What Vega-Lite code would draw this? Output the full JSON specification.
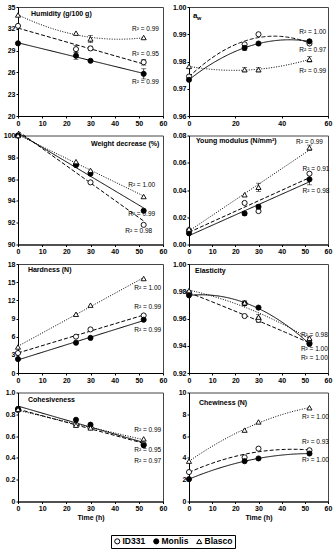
{
"$schema":"https://vega.github.io/schema/vega-lite/v6.json",
"padding":{"left":2,"top":2,"right":0,"bottom":0},
"columns":2,
"spacing":{"row":19.5,"column":26},
"bounds":"flush",
"resolve":{"scale":{"shape":"shared","fill":"shared","strokeDash":"shared"},"legend":{"shape":"independent","fill":"independent"}},
"datasets":{
"pts":[
{"p":"hum","s":"ID331","t":0,"v":32.4,"err":0},{"p":"hum","s":"ID331","t":24,"v":29.2,"err":0.5},{"p":"hum","s":"ID331","t":30,"v":29.3,"err":0.3},{"p":"hum","s":"ID331","t":52,"v":27.4,"err":0.4},
{"p":"hum","s":"Monlis","t":0,"v":30.0,"err":0},{"p":"hum","s":"Monlis","t":24,"v":28.3,"err":0.5},{"p":"hum","s":"Monlis","t":30,"v":27.6,"err":0},{"p":"hum","s":"Monlis","t":52,"v":25.8,"err":0.7},
{"p":"hum","s":"Blasco","t":0,"v":33.9,"err":0},{"p":"hum","s":"Blasco","t":24,"v":31.4,"err":0},{"p":"hum","s":"Blasco","t":30,"v":30.6,"err":0.5},{"p":"hum","s":"Blasco","t":52,"v":30.8,"err":0},
{"p":"aw","s":"ID331","t":0,"v":0.9745,"err":0},{"p":"aw","s":"ID331","t":24,"v":0.9863,"err":0},{"p":"aw","s":"ID331","t":30,"v":0.9900,"err":0},{"p":"aw","s":"ID331","t":52,"v":0.9866,"err":0.0005},
{"p":"aw","s":"Monlis","t":0,"v":0.9733,"err":0},{"p":"aw","s":"Monlis","t":24,"v":0.9850,"err":0.0009},{"p":"aw","s":"Monlis","t":30,"v":0.9866,"err":0},{"p":"aw","s":"Monlis","t":52,"v":0.9874,"err":0.0005},
{"p":"aw","s":"Blasco","t":0,"v":0.9782,"err":0},{"p":"aw","s":"Blasco","t":24,"v":0.9770,"err":0.0008},{"p":"aw","s":"Blasco","t":30,"v":0.9770,"err":0.0008},{"p":"aw","s":"Blasco","t":52,"v":0.9808,"err":0.0010},
{"p":"wd","s":"ID331","t":0,"v":100,"err":0},{"p":"wd","s":"ID331","t":24,"v":97.3,"err":0},{"p":"wd","s":"ID331","t":30,"v":95.7,"err":0},{"p":"wd","s":"ID331","t":52,"v":91.8,"err":0},
{"p":"wd","s":"Monlis","t":0,"v":100,"err":0},{"p":"wd","s":"Monlis","t":24,"v":97.3,"err":0},{"p":"wd","s":"Monlis","t":30,"v":96.5,"err":0},{"p":"wd","s":"Monlis","t":52,"v":93.1,"err":0},
{"p":"wd","s":"Blasco","t":0,"v":100,"err":0},{"p":"wd","s":"Blasco","t":24,"v":97.6,"err":0},{"p":"wd","s":"Blasco","t":30,"v":96.8,"err":0},{"p":"wd","s":"Blasco","t":52,"v":94.4,"err":0},
{"p":"ym","s":"ID331","t":0,"v":0.0105,"err":0},{"p":"ym","s":"ID331","t":24,"v":0.0305,"err":0},{"p":"ym","s":"ID331","t":30,"v":0.0245,"err":0},{"p":"ym","s":"ID331","t":52,"v":0.0520,"err":0},
{"p":"ym","s":"Monlis","t":0,"v":0.0082,"err":0},{"p":"ym","s":"Monlis","t":24,"v":0.0228,"err":0.0015},{"p":"ym","s":"Monlis","t":30,"v":0.0277,"err":0.0015},{"p":"ym","s":"Monlis","t":52,"v":0.0478,"err":0.004},
{"p":"ym","s":"Blasco","t":0,"v":0.0113,"err":0},{"p":"ym","s":"Blasco","t":24,"v":0.0365,"err":0},{"p":"ym","s":"Blasco","t":30,"v":0.0420,"err":0.003},{"p":"ym","s":"Blasco","t":52,"v":0.0710,"err":0.002},
{"p":"hd","s":"ID331","t":0,"v":3.3,"err":0},{"p":"hd","s":"ID331","t":24,"v":6.0,"err":0},{"p":"hd","s":"ID331","t":30,"v":7.2,"err":0},{"p":"hd","s":"ID331","t":52,"v":9.5,"err":0},
{"p":"hd","s":"Monlis","t":0,"v":2.3,"err":0},{"p":"hd","s":"Monlis","t":24,"v":5.0,"err":0},{"p":"hd","s":"Monlis","t":30,"v":5.8,"err":0},{"p":"hd","s":"Monlis","t":52,"v":8.8,"err":0},
{"p":"hd","s":"Blasco","t":0,"v":4.3,"err":0},{"p":"hd","s":"Blasco","t":24,"v":9.7,"err":0},{"p":"hd","s":"Blasco","t":30,"v":11.2,"err":0},{"p":"hd","s":"Blasco","t":52,"v":15.6,"err":0},
{"p":"el","s":"ID331","t":0,"v":0.9790,"err":0},{"p":"el","s":"ID331","t":24,"v":0.9618,"err":0},{"p":"el","s":"ID331","t":30,"v":0.9590,"err":0.002},{"p":"el","s":"ID331","t":52,"v":0.9420,"err":0},
{"p":"el","s":"Monlis","t":0,"v":0.9770,"err":0},{"p":"el","s":"Monlis","t":24,"v":0.9710,"err":0},{"p":"el","s":"Monlis","t":30,"v":0.9680,"err":0},{"p":"el","s":"Monlis","t":52,"v":0.9413,"err":0},
{"p":"el","s":"Blasco","t":0,"v":0.9805,"err":0},{"p":"el","s":"Blasco","t":24,"v":0.9715,"err":0.0015},{"p":"el","s":"Blasco","t":30,"v":0.9610,"err":0.002},{"p":"el","s":"Blasco","t":52,"v":0.9455,"err":0.0015},
{"p":"co","s":"ID331","t":0,"v":0.840,"err":0},{"p":"co","s":"ID331","t":24,"v":0.705,"err":0},{"p":"co","s":"ID331","t":30,"v":0.680,"err":0},{"p":"co","s":"ID331","t":52,"v":0.525,"err":0},
{"p":"co","s":"Monlis","t":0,"v":0.850,"err":0},{"p":"co","s":"Monlis","t":24,"v":0.750,"err":0},{"p":"co","s":"Monlis","t":30,"v":0.705,"err":0},{"p":"co","s":"Monlis","t":52,"v":0.515,"err":0},
{"p":"co","s":"Blasco","t":0,"v":0.845,"err":0},{"p":"co","s":"Blasco","t":24,"v":0.700,"err":0},{"p":"co","s":"Blasco","t":30,"v":0.675,"err":0},{"p":"co","s":"Blasco","t":52,"v":0.575,"err":0},
{"p":"ch","s":"ID331","t":0,"v":2.7,"err":0},{"p":"ch","s":"ID331","t":24,"v":4.05,"err":0},{"p":"ch","s":"ID331","t":30,"v":4.85,"err":0},{"p":"ch","s":"ID331","t":52,"v":4.7,"err":0},
{"p":"ch","s":"Monlis","t":0,"v":2.05,"err":0},{"p":"ch","s":"Monlis","t":24,"v":3.7,"err":0},{"p":"ch","s":"Monlis","t":30,"v":3.95,"err":0},{"p":"ch","s":"Monlis","t":52,"v":4.4,"err":0},
{"p":"ch","s":"Blasco","t":0,"v":3.7,"err":0},{"p":"ch","s":"Blasco","t":24,"v":6.55,"err":0},{"p":"ch","s":"Blasco","t":30,"v":7.3,"err":0},{"p":"ch","s":"Blasco","t":52,"v":8.6,"err":0}
],
"lab":[
{"p":"hum","t":47.2,"v":31.93,"txt":"R² = 0.99"},{"p":"hum","t":47.2,"v":28.57,"txt":"R² = 0.95"},{"p":"hum","t":47.2,"v":24.68,"txt":"R² = 0.99"},
{"p":"aw","t":47.6,"v":0.9910,"txt":"R² = 1.00"},{"p":"aw","t":47.6,"v":0.9843,"txt":"R² = 0.97"},{"p":"aw","t":47.6,"v":0.9765,"txt":"R² = 0.99"},
{"p":"wd","t":45.6,"v":95.43,"txt":"R² = 1.00"},{"p":"wd","t":45.6,"v":92.8,"txt":"R² = 0.99"},{"p":"wd","t":44.4,"v":91.23,"txt":"R² = 0.98"},
{"p":"ym","t":46.2,"v":0.0751,"txt":"R² = 0.99"},{"p":"ym","t":49,"v":0.0555,"txt":"R² = 0.91"},{"p":"ym","t":49,"v":0.039,"txt":"R² = 0.98"},
{"p":"hd","t":48.1,"v":14.04,"txt":"R² = 1.00"},{"p":"hd","t":48.1,"v":10.87,"txt":"R² = 0.99"},{"p":"hd","t":48.1,"v":7.08,"txt":"R² = 0.99"},
{"p":"el","t":48.3,"v":0.9476,"txt":"R² = 0.98"},{"p":"el","t":48.3,"v":0.9373,"txt":"R² = 1.00"},{"p":"el","t":48.3,"v":0.9308,"txt":"R² = 1.00"},
{"p":"co","t":48.1,"v":0.657,"txt":"R² = 0.99"},{"p":"co","t":48.1,"v":0.47,"txt":"R² = 0.95"},{"p":"co","t":48.1,"v":0.37,"txt":"R² = 0.97"},
{"p":"ch","t":48.8,"v":7.78,"txt":"R² = 1.00"},{"p":"ch","t":48.8,"v":5.48,"txt":"R² = 0.93"},{"p":"ch","t":48.8,"v":3.79,"txt":"R² = 1.00"}
],
"ttl":[
{"p":"hum","t":5.4,"v":34.0,"txt":"Humidity (g/100 g)"},
{"p":"aw","t":1.7,"v":0.9967,"txt":"a"},
{"p":"wd","t":30.2,"v":99.26,"txt":"Weight decrease (%)"},
{"p":"ym","t":3.0,"v":0.0756,"txt":"Young modulus (N/mm²)"},
{"p":"hd","t":4.1,"v":17.0,"txt":"Hardness (N)"},
{"p":"el","t":2.6,"v":0.995,"txt":"Elasticity"},
{"p":"co","t":4.1,"v":0.927,"txt":"Cohesiveness"},
{"p":"ch","t":4.3,"v":9.05,"txt":"Chewiness (N)"}
],
"sub":[{"p":"aw","t":3.4,"v":0.9958,"txt":"w"}]
},
"concat":[
{"width":145,"height":109,
 "encoding":{"x":{"field":"t","type":"quantitative","scale":{"domain":[0,60]},"axis":{"values":[0,10,20,30,40,50,60],"title":null}},
  "y":{"field":"v","type":"quantitative","scale":{"domain":[20,35]},"axis":{"values":[20,23,26,29,32,35],"title":null}}},
 "layer":[
  {"data":{"name":"pts"},"transform":[{"filter":"datum.p=='hum' && datum.s!='Blasco'"},{"regression":"v","on":"t","groupby":["s"],"extent":[0,52]}],"mark":{"type":"line","color":"black","strokeWidth":1},"encoding":{"strokeDash":{"field":"s","type":"nominal","scale":{"domain":["ID331","Monlis","Blasco"],"range":[[4,2],[1,0],[1,1.5]]},"legend":null}}},
  {"data":{"name":"pts"},"transform":[{"filter":"datum.p=='hum' && datum.s=='Blasco'"},{"regression":"v","on":"t","groupby":["s"],"method":"poly","order":2,"extent":[0,52]}],"mark":{"type":"line","color":"black","strokeWidth":1},"encoding":{"strokeDash":{"field":"s","type":"nominal","scale":{"domain":["ID331","Monlis","Blasco"],"range":[[4,2],[1,0],[1,1.5]]},"legend":null}}},
  {"data":{"name":"pts"},"transform":[{"filter":"datum.p=='hum' && datum.err>0"}],"mark":{"type":"errorbar","ticks":true,"color":"black","thickness":0.7},"encoding":{"yError":{"field":"err"}}},
  {"data":{"name":"pts"},"transform":[{"filter":"datum.p=='hum'"}],"mark":{"type":"point","stroke":"black","strokeWidth":0.9,"size":26,"opacity":1},"encoding":{
    "shape":{"field":"s","type":"nominal","scale":{"domain":["ID331","Monlis","Blasco"],"range":["circle","circle","triangle-up"]},"title":null,"legend":{"orient":"none","legendX":93,"legendY":528,"direction":"horizontal","strokeColor":"black","padding":2,"labelFontSize":8.5,"labelFontWeight":"bold","labelColor":"black","symbolSize":26,"symbolStrokeWidth":1,"columnPadding":5,"labelOffset":1}},
    "fill":{"field":"s","type":"nominal","scale":{"domain":["ID331","Monlis","Blasco"],"range":["white","black","white"]},"title":null,"legend":{"orient":"none","legendX":93,"legendY":528,"direction":"horizontal","strokeColor":"black","padding":2,"labelFontSize":8.5,"labelFontWeight":"bold","labelColor":"black","symbolSize":26,"symbolStrokeWidth":1,"columnPadding":5,"labelOffset":1}}}},
  {"data":{"name":"lab"},"transform":[{"filter":"datum.p=='hum'"}],"mark":{"type":"text","align":"left","baseline":"middle","fontSize":6.5,"color":"black"},"encoding":{"text":{"field":"txt"}}},
  {"data":{"name":"ttl"},"transform":[{"filter":"datum.p=='hum'"}],"mark":{"type":"text","align":"left","baseline":"middle","fontSize":7,"fontWeight":"bold","color":"black"},"encoding":{"text":{"field":"txt"}}}
 ]},
{"width":139,"height":109,
 "encoding":{"x":{"field":"t","type":"quantitative","scale":{"domain":[0,60]},"axis":{"values":[0,20,40,60],"title":null}},
  "y":{"field":"v","type":"quantitative","scale":{"domain":[0.96,1.0]},"axis":{"values":[0.96,0.97,0.98,0.99,1.0],"format":".2f","title":null}}},
 "layer":[
  {"data":{"name":"pts"},"transform":[{"filter":"datum.p=='aw'"},{"regression":"v","on":"t","groupby":["s"],"method":"poly","order":2,"extent":[0,52]}],"mark":{"type":"line","color":"black","strokeWidth":1},"encoding":{"strokeDash":{"field":"s","type":"nominal","scale":{"domain":["ID331","Monlis","Blasco"],"range":[[4,2],[1,0],[1,1.5]]},"legend":null}}},
  {"data":{"name":"pts"},"transform":[{"filter":"datum.p=='aw' && datum.err>0"}],"mark":{"type":"errorbar","ticks":true,"color":"black","thickness":0.7},"encoding":{"yError":{"field":"err"}}},
  {"data":{"name":"pts"},"transform":[{"filter":"datum.p=='aw'"}],"mark":{"type":"point","stroke":"black","strokeWidth":0.9,"size":26,"opacity":1},"encoding":{"shape":{"field":"s","type":"nominal","scale":{"domain":["ID331","Monlis","Blasco"],"range":["circle","circle","triangle-up"]},"legend":null},"fill":{"field":"s","type":"nominal","scale":{"domain":["ID331","Monlis","Blasco"],"range":["white","black","white"]},"legend":null}}},
  {"data":{"name":"lab"},"transform":[{"filter":"datum.p=='aw'"}],"mark":{"type":"text","align":"left","baseline":"middle","fontSize":6.5,"color":"black"},"encoding":{"text":{"field":"txt"}}},
  {"data":{"name":"ttl"},"transform":[{"filter":"datum.p=='aw'"}],"mark":{"type":"text","align":"left","baseline":"middle","fontSize":8,"fontWeight":"bold","color":"black"},"encoding":{"text":{"field":"txt"}}},
  {"data":{"name":"sub"},"transform":[{"filter":"datum.p=='aw'"}],"mark":{"type":"text","align":"left","baseline":"middle","fontSize":5.5,"fontWeight":"bold","color":"black"},"encoding":{"text":{"field":"txt"}}}
 ]},
{"width":145,"height":109,
 "encoding":{"x":{"field":"t","type":"quantitative","scale":{"domain":[0,60]},"axis":{"values":[0,10,20,30,40,50,60],"title":null}},
  "y":{"field":"v","type":"quantitative","scale":{"domain":[90,100]},"axis":{"values":[90,92,94,96,98,100],"title":null}}},
 "layer":[
  {"data":{"name":"pts"},"transform":[{"filter":"datum.p=='wd'"},{"regression":"v","on":"t","groupby":["s"],"extent":[0,52]}],"mark":{"type":"line","color":"black","strokeWidth":1},"encoding":{"strokeDash":{"field":"s","type":"nominal","scale":{"domain":["ID331","Monlis","Blasco"],"range":[[4,2],[1,0],[1,1.5]]},"legend":null}}},
  {"data":{"name":"pts"},"transform":[{"filter":"datum.p=='wd'"}],"mark":{"type":"point","stroke":"black","strokeWidth":0.9,"size":26,"opacity":1},"encoding":{"shape":{"field":"s","type":"nominal","scale":{"domain":["ID331","Monlis","Blasco"],"range":["circle","circle","triangle-up"]},"legend":null},"fill":{"field":"s","type":"nominal","scale":{"domain":["ID331","Monlis","Blasco"],"range":["white","black","white"]},"legend":null}}},
  {"data":{"name":"lab"},"transform":[{"filter":"datum.p=='wd'"}],"mark":{"type":"text","align":"left","baseline":"middle","fontSize":6.5,"color":"black"},"encoding":{"text":{"field":"txt"}}},
  {"data":{"name":"ttl"},"transform":[{"filter":"datum.p=='wd'"}],"mark":{"type":"text","align":"left","baseline":"middle","fontSize":7,"fontWeight":"bold","color":"black"},"encoding":{"text":{"field":"txt"}}}
 ]},
{"width":139,"height":109,
 "encoding":{"x":{"field":"t","type":"quantitative","scale":{"domain":[0,60]},"axis":{"values":[0,10,20,30,40,50,60],"title":null}},
  "y":{"field":"v","type":"quantitative","scale":{"domain":[0,0.08]},"axis":{"values":[0,0.02,0.04,0.06,0.08],"format":".2f","title":null}}},
 "layer":[
  {"data":{"name":"pts"},"transform":[{"filter":"datum.p=='ym'"},{"regression":"v","on":"t","groupby":["s"],"extent":[0,52]}],"mark":{"type":"line","color":"black","strokeWidth":1},"encoding":{"strokeDash":{"field":"s","type":"nominal","scale":{"domain":["ID331","Monlis","Blasco"],"range":[[4,2],[1,0],[1,1.5]]},"legend":null}}},
  {"data":{"name":"pts"},"transform":[{"filter":"datum.p=='ym' && datum.err>0"}],"mark":{"type":"errorbar","ticks":true,"color":"black","thickness":0.7},"encoding":{"yError":{"field":"err"}}},
  {"data":{"name":"pts"},"transform":[{"filter":"datum.p=='ym'"}],"mark":{"type":"point","stroke":"black","strokeWidth":0.9,"size":26,"opacity":1},"encoding":{"shape":{"field":"s","type":"nominal","scale":{"domain":["ID331","Monlis","Blasco"],"range":["circle","circle","triangle-up"]},"legend":null},"fill":{"field":"s","type":"nominal","scale":{"domain":["ID331","Monlis","Blasco"],"range":["white","black","white"]},"legend":null}}},
  {"data":{"name":"lab"},"transform":[{"filter":"datum.p=='ym'"}],"mark":{"type":"text","align":"left","baseline":"middle","fontSize":6.5,"color":"black"},"encoding":{"text":{"field":"txt"}}},
  {"data":{"name":"ttl"},"transform":[{"filter":"datum.p=='ym'"}],"mark":{"type":"text","align":"left","baseline":"middle","fontSize":7,"fontWeight":"bold","color":"black"},"encoding":{"text":{"field":"txt"}}}
 ]},
{"width":145,"height":109,
 "encoding":{"x":{"field":"t","type":"quantitative","scale":{"domain":[0,60]},"axis":{"values":[0,10,20,30,40,50,60],"title":null}},
  "y":{"field":"v","type":"quantitative","scale":{"domain":[0,18]},"axis":{"values":[0,3,6,9,12,15,18],"title":null}}},
 "layer":[
  {"data":{"name":"pts"},"transform":[{"filter":"datum.p=='hd'"},{"regression":"v","on":"t","groupby":["s"],"extent":[0,52]}],"mark":{"type":"line","color":"black","strokeWidth":1},"encoding":{"strokeDash":{"field":"s","type":"nominal","scale":{"domain":["ID331","Monlis","Blasco"],"range":[[4,2],[1,0],[1,1.5]]},"legend":null}}},
  {"data":{"name":"pts"},"transform":[{"filter":"datum.p=='hd'"}],"mark":{"type":"point","stroke":"black","strokeWidth":0.9,"size":26,"opacity":1},"encoding":{"shape":{"field":"s","type":"nominal","scale":{"domain":["ID331","Monlis","Blasco"],"range":["circle","circle","triangle-up"]},"legend":null},"fill":{"field":"s","type":"nominal","scale":{"domain":["ID331","Monlis","Blasco"],"range":["white","black","white"]},"legend":null}}},
  {"data":{"name":"lab"},"transform":[{"filter":"datum.p=='hd'"}],"mark":{"type":"text","align":"left","baseline":"middle","fontSize":6.5,"color":"black"},"encoding":{"text":{"field":"txt"}}},
  {"data":{"name":"ttl"},"transform":[{"filter":"datum.p=='hd'"}],"mark":{"type":"text","align":"left","baseline":"middle","fontSize":7,"fontWeight":"bold","color":"black"},"encoding":{"text":{"field":"txt"}}}
 ]},
{"width":139,"height":109,
 "encoding":{"x":{"field":"t","type":"quantitative","scale":{"domain":[0,60]},"axis":{"values":[0,10,20,30,40,50,60],"title":null}},
  "y":{"field":"v","type":"quantitative","scale":{"domain":[0.92,1.0]},"axis":{"values":[0.92,0.94,0.96,0.98,1.0],"format":".2f","title":null}}},
 "layer":[
  {"data":{"name":"pts"},"transform":[{"filter":"datum.p=='el'"},{"regression":"v","on":"t","groupby":["s"],"method":"poly","order":2,"extent":[0,52]}],"mark":{"type":"line","color":"black","strokeWidth":1},"encoding":{"strokeDash":{"field":"s","type":"nominal","scale":{"domain":["ID331","Monlis","Blasco"],"range":[[4,2],[1,0],[1,1.5]]},"legend":null}}},
  {"data":{"name":"pts"},"transform":[{"filter":"datum.p=='el' && datum.err>0"}],"mark":{"type":"errorbar","ticks":true,"color":"black","thickness":0.7},"encoding":{"yError":{"field":"err"}}},
  {"data":{"name":"pts"},"transform":[{"filter":"datum.p=='el'"}],"mark":{"type":"point","stroke":"black","strokeWidth":0.9,"size":26,"opacity":1},"encoding":{"shape":{"field":"s","type":"nominal","scale":{"domain":["ID331","Monlis","Blasco"],"range":["circle","circle","triangle-up"]},"legend":null},"fill":{"field":"s","type":"nominal","scale":{"domain":["ID331","Monlis","Blasco"],"range":["white","black","white"]},"legend":null}}},
  {"data":{"name":"lab"},"transform":[{"filter":"datum.p=='el'"}],"mark":{"type":"text","align":"left","baseline":"middle","fontSize":6.5,"color":"black"},"encoding":{"text":{"field":"txt"}}},
  {"data":{"name":"ttl"},"transform":[{"filter":"datum.p=='el'"}],"mark":{"type":"text","align":"left","baseline":"middle","fontSize":7,"fontWeight":"bold","color":"black"},"encoding":{"text":{"field":"txt"}}}
 ]},
{"width":145,"height":109,
 "encoding":{"x":{"field":"t","type":"quantitative","scale":{"domain":[0,60]},"axis":{"values":[0,10,20,30,40,50,60],"title":"Time (h)"}},
  "y":{"field":"v","type":"quantitative","scale":{"domain":[0,1]},"axis":{"values":[0,0.2,0.4,0.6,0.8,1.0],"labelExpr":"datum.value == 0 ? '0' : format(datum.value, '.1f')","title":null}}},
 "layer":[
  {"data":{"name":"pts"},"transform":[{"filter":"datum.p=='co'"},{"regression":"v","on":"t","groupby":["s"],"extent":[0,52]}],"mark":{"type":"line","color":"black","strokeWidth":1},"encoding":{"strokeDash":{"field":"s","type":"nominal","scale":{"domain":["ID331","Monlis","Blasco"],"range":[[4,2],[1,0],[1,1.5]]},"legend":null}}},
  {"data":{"name":"pts"},"transform":[{"filter":"datum.p=='co'"}],"mark":{"type":"point","stroke":"black","strokeWidth":0.9,"size":26,"opacity":1},"encoding":{"shape":{"field":"s","type":"nominal","scale":{"domain":["ID331","Monlis","Blasco"],"range":["circle","circle","triangle-up"]},"legend":null},"fill":{"field":"s","type":"nominal","scale":{"domain":["ID331","Monlis","Blasco"],"range":["white","black","white"]},"legend":null}}},
  {"data":{"name":"lab"},"transform":[{"filter":"datum.p=='co'"}],"mark":{"type":"text","align":"left","baseline":"middle","fontSize":6.5,"color":"black"},"encoding":{"text":{"field":"txt"}}},
  {"data":{"name":"ttl"},"transform":[{"filter":"datum.p=='co'"}],"mark":{"type":"text","align":"left","baseline":"middle","fontSize":7,"fontWeight":"bold","color":"black"},"encoding":{"text":{"field":"txt"}}}
 ]},
{"width":139,"height":109,
 "encoding":{"x":{"field":"t","type":"quantitative","scale":{"domain":[0,60]},"axis":{"values":[0,10,20,30,40,50,60],"title":"Time (h)"}},
  "y":{"field":"v","type":"quantitative","scale":{"domain":[0,10]},"axis":{"values":[0,2,4,6,8,10],"title":null}}},
 "layer":[
  {"data":{"name":"pts"},"transform":[{"filter":"datum.p=='ch'"},{"regression":"v","on":"t","groupby":["s"],"method":"poly","order":2,"extent":[0,52]}],"mark":{"type":"line","color":"black","strokeWidth":1},"encoding":{"strokeDash":{"field":"s","type":"nominal","scale":{"domain":["ID331","Monlis","Blasco"],"range":[[4,2],[1,0],[1,1.5]]},"legend":null}}},
  {"data":{"name":"pts"},"transform":[{"filter":"datum.p=='ch'"}],"mark":{"type":"point","stroke":"black","strokeWidth":0.9,"size":26,"opacity":1},"encoding":{"shape":{"field":"s","type":"nominal","scale":{"domain":["ID331","Monlis","Blasco"],"range":["circle","circle","triangle-up"]},"legend":null},"fill":{"field":"s","type":"nominal","scale":{"domain":["ID331","Monlis","Blasco"],"range":["white","black","white"]},"legend":null}}},
  {"data":{"name":"lab"},"transform":[{"filter":"datum.p=='ch'"}],"mark":{"type":"text","align":"left","baseline":"middle","fontSize":6.5,"color":"black"},"encoding":{"text":{"field":"txt"}}},
  {"data":{"name":"ttl"},"transform":[{"filter":"datum.p=='ch'"}],"mark":{"type":"text","align":"left","baseline":"middle","fontSize":7,"fontWeight":"bold","color":"black"},"encoding":{"text":{"field":"txt"}}}
 ]}
],
"config":{
 "font":"Liberation Sans",
 "view":{"stroke":"#444","strokeWidth":1},
 "axis":{"labelFontSize":7,"labelFontWeight":"bold","labelColor":"black","domainColor":"black","tickColor":"black","tickSize":2,"labelPadding":1,"grid":false,"titleFontSize":7,"titleFontWeight":"bold","titleColor":"black","titlePadding":2,"labelFlush":false}
}
}
